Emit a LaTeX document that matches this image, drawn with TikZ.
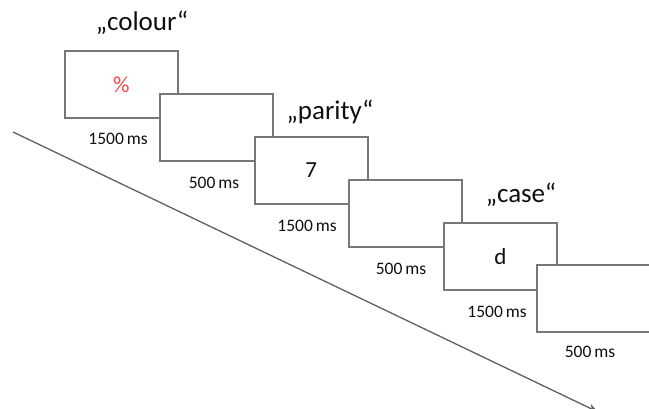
\documentclass[tikz,border=0pt]{standalone}
\usepackage{fontspec}
\setmainfont{Carlito}
\usetikzlibrary{arrows.meta}
\definecolor{boxgray}{RGB}{120,120,120}
\definecolor{linegray}{RGB}{95,95,95}
\definecolor{txt}{RGB}{15,15,15}
\definecolor{stimred}{RGB}{250,70,70}
\tikzset{
  screen/.style={draw=boxgray, line width=1.6pt, fill=white, minimum width=113pt, minimum height=67pt, inner sep=0pt, anchor=north west},
  dur/.style={text=txt, font=\fontsize{17.5}{20}\selectfont, inner sep=0pt},
  task/.style={text=txt, font=\fontsize{27}{30}\selectfont, inner sep=0pt},
  stim/.style={text=txt, font=\fontsize{23}{26}\selectfont, inner sep=0pt},
}
\begin{document}
\begin{tikzpicture}[x=1pt,y=-1pt]
\useasboundingbox (0,0) rectangle (649,409);
\coordinate (tstart) at (13,132);
\coordinate (tend) at (598,412);
\draw[line width=1.3pt, -{Stealth[length=10pt,width=8pt]}, color=linegray] (tstart) -- (tend);
\node[screen] (s1) at (64,50) {};
\node[screen] (s2) at (159,93) {};
\node[screen] (s3) at (254,136) {};
\node[screen] (s4) at (348,179) {};
\node[screen] (s5) at (443,222) {};
\node[screen] (s6) at (536,264) {};
\node[stim, text=stimred] (c1) at (s1.center) {\%};
\node[stim] (c3) at (s3.center) {7};
\node[stim] (c5) at (s5.center) {d};
\node[task] (t1) at (142,23) {„colour“};
\node[task] (t3) at (330,112) {„parity“};
\node[task] (t5) at (521,195) {„case“};
\node[dur] (d1) at (118,139) {1500\,ms};
\node[dur] (d2) at (214,183) {500\,ms};
\node[dur] (d3) at (307,226) {1500\,ms};
\node[dur] (d4) at (401,269) {500\,ms};
\node[dur] (d5) at (497,312) {1500\,ms};
\node[dur] (d6) at (590,352) {500\,ms};
\end{tikzpicture}
\end{document}
